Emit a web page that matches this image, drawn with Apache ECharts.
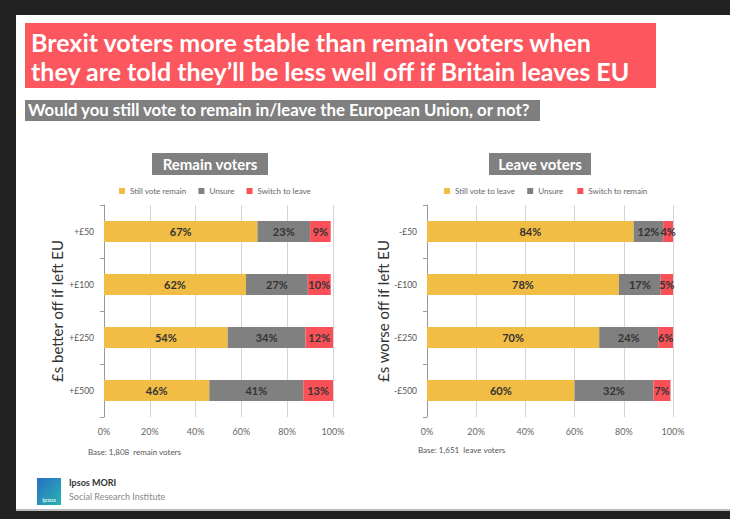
<!DOCTYPE html>
<html>
<head>
<meta charset="utf-8">
<script src="https://cdn.jsdelivr.net/npm/echarts@6/dist/echarts.min.js"></script>
<style>
html,body{margin:0;padding:0;background:#fff;overflow:hidden;}
#c{width:730px;height:519px;display:block;}
</style>
</head>
<body>
<div id="c"></div>
<script>
// ---- data ----
var remainCats = ['+£50', '+£100', '+£250', '+£500'];
var remainStill = [67, 62, 54, 46];
var remainUnsure = [23, 27, 34, 41];
var remainSwitch = [9, 10, 12, 13];

var leaveCats = ['-£50', '-£100', '-£250', '-£500'];
var leaveStill = [84, 78, 70, 60];
var leaveUnsure = [12, 17, 24, 32];
var leaveSwitch = [4, 5, 6, 7];

var xTicks = [0, 20, 40, 60, 80, 100];

var remainNames = ['Still vote remain', 'Unsure', 'Switch to leave'];
var leaveNames = ['Still vote to leave', 'Unsure ', 'Switch to remain'];

var titleText = 'Brexit voters more stable than remain voters when\nthey are told they\u2019ll be less well off if Britain leaves EU';
var subtitleText = 'Would you still vote to remain in/leave the European Union, or not?';

// ---- styles ----
var YEL = '#f1bd44', GRY = '#808080', RED = '#fa5159';
var FONT = 'Lato, "Open Sans", sans-serif';

function xAxisFor(gi) {
  return {
    gridIndex: gi, type: 'value', min: xTicks[0], max: xTicks[xTicks.length - 1], interval: 20,
    axisLine: {show: false}, axisTick: {show: false},
    axisLabel: {color: '#666', fontSize: 9, fontFamily: FONT, margin: 10, formatter: '{value}%'},
    splitLine: {show: true, lineStyle: {color: '#d4d4d4', width: 1}}
  };
}
function yAxisFor(gi, cats, name, gap) {
  return {
    gridIndex: gi, type: 'category', data: cats, inverse: true,
    axisLine: {show: true, lineStyle: {color: '#999'}},
    axisTick: {show: true, length: 4, lineStyle: {color: '#999'}},
    axisLabel: {color: '#555', fontSize: 8.5, fontFamily: FONT, margin: 10},
    name: name, nameLocation: 'middle', nameGap: gap, nameRotate: 90,
    nameTextStyle: {color: '#333', fontSize: 15, fontFamily: FONT}
  };
}
function barSeries(name, data, color, gi) {
  return {
    name: name, type: 'bar', stack: 's' + gi, xAxisIndex: gi, yAxisIndex: gi,
    data: data, barWidth: 21, itemStyle: {color: color},
    label: {show: true, position: 'inside', formatter: '{c}%', color: '#333',
            fontSize: 11, fontWeight: 'bold', fontFamily: FONT}
  };
}

var chart = echarts.init(document.getElementById('c'), null, {renderer: 'svg', width: 730, height: 519});
chart.setOption({
  backgroundColor: '#fff',
  animation: false,
  graphic: [
    {type: 'rect', shape: {x: 0, y: 0, width: 730, height: 15}, style: {fill: '#222'}, z: -10},
    {type: 'rect', shape: {x: 0, y: 0, width: 16, height: 519}, style: {fill: '#222'}, z: -10},
    {type: 'rect', shape: {x: 0, y: 511, width: 730, height: 8}, style: {fill: '#222'}, z: -10},
    {type: 'rect', shape: {x: 16, y: 509, width: 714, height: 2}, style: {fill: '#bbb'}, z: -10},
    {type: 'rect', shape: {x: 25, y: 23, width: 631, height: 65}, style: {fill: '#fc565e'}, z: -5},
    {type: 'text', left: 31, top: 27, z: 5,
     style: {text: titleText, fill: '#fff', font: 'bold 25px ' + FONT, lineHeight: 29}},
    {type: 'rect', shape: {x: 25, y: 100, width: 515, height: 21}, style: {fill: '#7f7f7f'}, z: -5},
    {type: 'text', left: 28, top: 101, z: 5,
     style: {text: subtitleText, fill: '#fff', font: 'bold 16.8px ' + FONT}},
    {type: 'rect', shape: {x: 152, y: 153, width: 116, height: 22}, style: {fill: '#808080'}, z: -5},
    {type: 'text', x: 210, y: 164, z: 5,
     style: {text: 'Remain voters', fill: '#fff', font: 'bold 15px ' + FONT, align: 'center', verticalAlign: 'middle'}},
    {type: 'rect', shape: {x: 489, y: 153, width: 102, height: 22}, style: {fill: '#808080'}, z: -5},
    {type: 'text', x: 540, y: 164, z: 5,
     style: {text: 'Leave voters', fill: '#fff', font: 'bold 15px ' + FONT, align: 'center', verticalAlign: 'middle'}},
    {type: 'text', left: 88, top: 448, z: 5,
     style: {text: 'Base: 1,808  remain voters', fill: '#555', font: '8px ' + FONT}},
    {type: 'text', left: 418, top: 446, z: 5,
     style: {text: 'Base: 1,651  leave voters', fill: '#555', font: '8px ' + FONT}},
    {type: 'rect', shape: {x: 37, y: 478, width: 24, height: 27}, z: 1,
     style: {fill: new echarts.graphic.LinearGradient(0, 0, 1, 1, [{offset: 0, color: '#2a6fc4'}, {offset: 1, color: '#27b3b0'}])}},
    {type: 'text', x: 49, y: 499, z: 5,
     style: {text: 'Ipsos', fill: '#fff', font: '6px ' + FONT, align: 'center', verticalAlign: 'middle'}},
    {type: 'text', left: 69, top: 478, z: 5,
     style: {text: 'Ipsos MORI', fill: '#333', font: 'bold 9px ' + FONT}},
    {type: 'text', left: 69, top: 492, z: 5,
     style: {text: 'Social Research Institute', fill: '#888', font: '9px ' + FONT}}
  ],
  legend: [
    {data: remainNames, left: 114, top: 182, itemWidth: 6, itemHeight: 6, itemGap: 12,
     icon: 'rect', textStyle: {color: '#666', fontSize: 8, fontFamily: FONT}},
    {data: leaveNames, left: 439, top: 182, itemWidth: 6, itemHeight: 6, itemGap: 12,
     icon: 'rect', textStyle: {color: '#666', fontSize: 8, fontFamily: FONT}}
  ],
  grid: [
    {left: 104, right: 397, top: 205, bottom: 102},
    {left: 427, right: 57, top: 205, bottom: 102}
  ],
  xAxis: [xAxisFor(0), xAxisFor(1)],
  yAxis: [
    yAxisFor(0, remainCats, '£s better off if left EU', 40),
    yAxisFor(1, leaveCats, '£s worse off if left EU', 37)
  ],
  series: [
    barSeries(remainNames[0], remainStill, YEL, 0),
    barSeries(remainNames[1], remainUnsure, GRY, 0),
    barSeries(remainNames[2], remainSwitch, RED, 0),
    barSeries(leaveNames[0], leaveStill, YEL, 1),
    barSeries(leaveNames[1], leaveUnsure, GRY, 1),
    barSeries(leaveNames[2], leaveSwitch, RED, 1)
  ]
});
</script>
</body>
</html>
